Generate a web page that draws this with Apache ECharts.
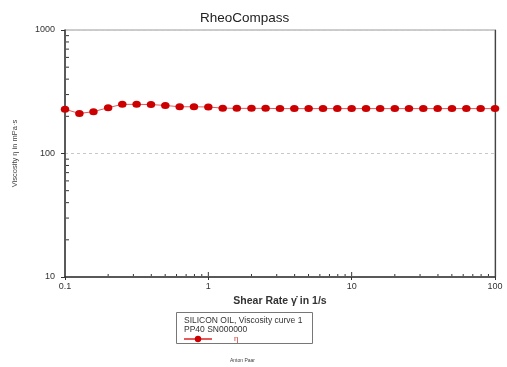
<!DOCTYPE html>
<html>
<head>
<meta charset="utf-8">
<script src="https://cdn.jsdelivr.net/npm/echarts@6/dist/echarts.min.js"></script>
<style>
  html, body { margin: 0; padding: 0; background: #fff; }
  #chart { width: 507px; height: 367px; }
</style>
</head>
<body>
<div id="chart"></div>
<script>
// Shear rates (1/s) of the measured points
const shearRate = [0.1, 0.126, 0.158, 0.2, 0.251, 0.316, 0.398, 0.501, 0.631, 0.794,
  1, 1.26, 1.58, 2, 2.51, 3.16, 3.98, 5.01, 6.31, 7.94,
  10, 12.6, 15.8, 20, 25.1, 31.6, 39.8, 50.1, 63.1, 79.4, 100];
// Viscosity (mPa·s)
const viscosity = [228, 211, 218, 235, 250, 250, 249, 245, 239, 239,
  238, 233, 232, 232, 232, 231, 231, 231, 231, 231,
  231, 231, 231, 231, 231, 231, 231, 231, 231, 231, 231];
// Axis ranges and decade labels
const xDecades = [0.1, 1, 10, 100];
const yDecades = [10, 100, 1000];

const FONT = 'Liberation Sans, Arial, DejaVu Sans, sans-serif';

// Minor tick values (2..9 within each decade)
function minorTicks(decades) {
  const out = [];
  for (let d = 0; d < decades.length - 1; d++) {
    for (let k = 2; k <= 9; k++) out.push(+(decades[d] * k).toPrecision(3));
  }
  return out;
}
const xMinor = minorTicks(xDecades).concat(xDecades.slice(1, -1));
const yMinor = minorTicks(yDecades);

const chart = echarts.init(document.getElementById('chart'));

const option = {
  backgroundColor: '#ffffff',
  animation: false,
  title: {
    text: 'RheoCompass',
    left: 195,
    top: 6,
    textStyle: { fontFamily: FONT, fontSize: 13.5, fontWeight: 'normal', color: '#222' }
  },
  grid: { left: 65, right: 12, top: 30, bottom: 90, show: true,
    borderColor: '#9a9a9a', borderWidth: 1, backgroundColor: 'transparent' },
  xAxis: {
    type: 'log', logBase: 10, min: xDecades[0], max: xDecades[xDecades.length - 1],
    name: 'Shear Rate γ̇ in 1/s',
    nameLocation: 'middle', nameGap: 15,
    nameTextStyle: { fontFamily: FONT, fontSize: 10.5, fontWeight: 'bold', color: '#333' },
    axisLine: { lineStyle: { color: '#333', width: 1.5 } },
    axisTick: { show: true, length: 3, lineStyle: { color: '#333' } },
    axisLabel: { fontFamily: FONT, fontSize: 9, color: '#333', margin: 5,
      formatter: v => String(v) },
    splitLine: { show: false }
  },
  yAxis: [
    {
      type: 'log', logBase: 10, min: yDecades[0], max: yDecades[yDecades.length - 1],
      name: 'Viscosity η in mPa·s',
      nameLocation: 'middle', nameGap: 46,
      nameTextStyle: { fontFamily: FONT, fontSize: 7.5, color: '#444' },
      axisLine: { lineStyle: { color: '#333', width: 1.5 } },
      axisTick: { show: true, length: 4, lineStyle: { color: '#333' } },
      axisLabel: { fontFamily: FONT, fontSize: 9, color: '#333', margin: 10,
        formatter: v => String(v) },
      splitLine: { show: true, lineStyle: { color: '#c8c8c8', type: [3, 3], width: 1 } }
    },
    {
      // right-hand frame edge
      type: 'log', logBase: 10, min: yDecades[0], max: yDecades[yDecades.length - 1],
      position: 'right',
      axisLine: { show: true, lineStyle: { color: '#444', width: 1.2 } },
      axisTick: { show: false }, axisLabel: { show: false }, splitLine: { show: false }
    }
  ],
  legend: {
    data: ['η'],
    left: 183, top: 335, padding: 0,
    itemWidth: 28, itemHeight: 8, itemGap: 0,
    textStyle: { fontFamily: FONT, fontSize: 8, color: '#cc3333', padding: [0, 0, 0, 17] }
  },
  graphic: [
    { type: 'rect', shape: { x: 176.5, y: 312.5, width: 136, height: 31 },
      style: { fill: 'none', stroke: '#777', lineWidth: 1 }, silent: true },
    { type: 'text', left: 184, top: 316,
      style: { text: 'SILICON OIL, Viscosity curve 1\nPP40 SN000000', fill: '#333',
        font: '8.5px ' + FONT, lineHeight: 9 } },
    { type: 'text', left: 230, top: 358,
      style: { text: 'Anton Paar', fill: '#444', font: '5px ' + FONT } }
  ],
  series: [
    {
      name: 'η',
      type: 'line',
      data: shearRate.map((x, i) => [x, viscosity[i]]),
      symbol: 'circle',
      symbolSize: [8.5, 7],
      itemStyle: { color: '#cc0000' },
      lineStyle: { color: '#e25a5a', width: 1 },
      z: 5
    },
    {
      // inward minor ticks on the shear-rate axis
      type: 'custom',
      silent: true,
      clip: false,
      data: xMinor.map(v => [v]),
      renderItem: (params, api) => {
        const p = api.coord([api.value(0), yDecades[0]]);
        const major = xDecades.indexOf(api.value(0)) >= 0;
        return { type: 'line', shape: { x1: p[0], y1: p[1] - 1, x2: p[0], y2: p[1] - (major ? 5 : 3) },
          style: { stroke: '#333', lineWidth: 1 } };
      }
    },
    {
      // inward minor ticks on the viscosity axis
      type: 'custom',
      silent: true,
      clip: false,
      data: yMinor.map(v => [v]),
      renderItem: (params, api) => {
        const p = api.coord([xDecades[0], api.value(0)]);
        return { type: 'line', shape: { x1: p[0] + 1, y1: p[1], x2: p[0] + 4, y2: p[1] },
          style: { stroke: '#333', lineWidth: 1 } };
      },
      encode: { x: -1, y: 0 }
    }
  ]
};
chart.setOption(option);
</script>
</body>
</html>
